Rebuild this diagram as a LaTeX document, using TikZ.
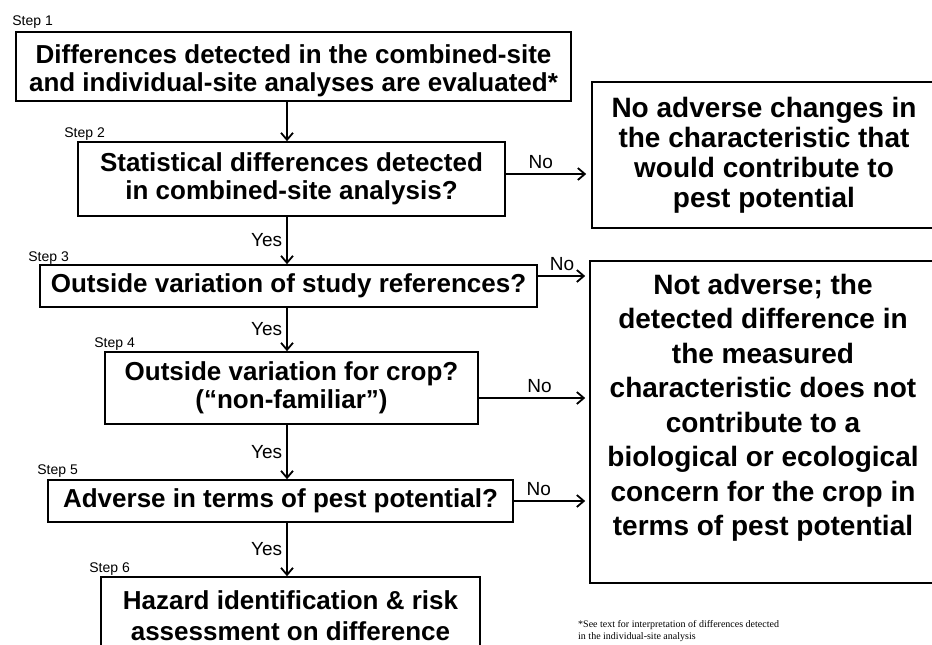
\documentclass[tikz,border=0pt]{standalone}
\usepackage{fontspec}
\setmainfont{Liberation Sans}
\newfontfamily\notefont{Liberation Serif}
\usetikzlibrary{arrows.meta, positioning, calc}

\newcommand{\boxfont}{\bfseries\fontsize{26}{28}\selectfont}
\newcommand{\bigboxfont}{\bfseries\fontsize{28}{30}\selectfont}

\begin{document}
\begin{tikzpicture}[x=1pt, y=-1pt, >={Straight Barb[length=7pt, width=12pt]},
  stepbox/.style={draw, line width=1.6pt, align=center, inner sep=0pt, font=\boxfont},
  endbox/.style={draw, line width=1.6pt, align=center, inner sep=0pt, font=\bigboxfont},
  steptag/.style={anchor=base west, inner sep=0pt, font=\fontsize{14}{16}\selectfont},
  flow/.style={->, line width=1.8pt},
  answer/.style={font=\fontsize{19}{21}\selectfont, inner sep=4pt}]
  \useasboundingbox (0,0) rectangle (932,645);
  \clip (0,0) rectangle (932,645);
  \coordinate (spine) at (287,0);

  % left column: the six steps
  \node[stepbox, minimum width=555pt, minimum height=69pt] (b1) at (293.5,66.5)
    {\rule{0pt}{28pt}Differences detected in the combined-site\\and individual-site analyses are evaluated*};
  \node[stepbox, minimum width=427pt, minimum height=74pt] (b2) at (291.5,179)
    {Statistical differences detected\\in combined-site analysis?};
  \node[stepbox, minimum width=497pt, minimum height=42pt] (b3) at (288.5,286)
    {Outside variation of study references?};
  \node[stepbox, minimum width=373pt, minimum height=72pt] (b4) at (291.5,388)
    {Outside variation for crop?\\(``non-familiar'')};
  \node[stepbox, minimum width=465pt, minimum height=42pt] (b5) at (280.5,501)
    {Adverse in terms of pest potential?};
  \node[stepbox, font=\bfseries\fontsize{26}{31}\selectfont,
    minimum width=379pt, minimum height=78pt] (b6) at (290.5,616)
    {Hazard identification \& risk\\assessment on difference};

  % step numbers
  \node[steptag] (s1) at ([xshift=-3pt, yshift=6pt]b1.north west) {Step 1};
  \node[steptag] (s2) at ([xshift=-13pt, yshift=4pt]b2.north west) {Step 2};
  \node[steptag] (s3) at ([xshift=-11pt, yshift=3pt]b3.north west) {Step 3};
  \node[steptag] (s4) at ([xshift=-10pt, yshift=4pt]b4.north west) {Step 4};
  \node[steptag] (s5) at ([xshift=-10pt, yshift=5pt]b5.north west) {Step 5};
  \node[steptag] (s6) at ([xshift=-11pt, yshift=4pt]b6.north west) {Step 6};

  % right column: outcomes
  \node[endbox, minimum width=344pt, minimum height=146pt] (r1) at (764,155)
    {No adverse changes in\\the characteristic that\\would contribute to\\pest potential};
  \node[draw, line width=1.6pt, inner sep=0pt, font=\bigboxfont] (r2) at (763,422)
    {\parbox[c][322pt][t]{346pt}{\centering\fontsize{28}{34.5}\selectfont\vspace*{13pt}%
      Not adverse; the\\detected difference in\\the measured\\characteristic does not\\%
      contribute to a\\biological or ecological\\concern for the crop in\\terms of pest potential}};

  % Yes: down the spine
  \draw[flow] (b1.south -| spine) -- (b2.north -| spine);
  \draw[flow] (b2.south -| spine) -- node[answer, left] {Yes} (b3.north -| spine);
  \draw[flow] (b3.south -| spine) -- node[answer, left] {Yes} (b4.north -| spine);
  \draw[flow] (b4.south -| spine) -- node[answer, left] {Yes} (b5.north -| spine);
  \draw[flow] (b5.south -| spine) -- node[answer, left] {Yes} (b6.north -| spine);

  % No: across to the outcomes
  \draw[flow, shorten >=5pt] ([yshift=5pt]b2.east)
    -- node[answer, above, pos=0.41] {No} ([yshift=5pt]b2.east -| r1.west);
  \draw[flow, shorten >=4pt] ([yshift=10pt]b3.east)
    -- node[answer, above, pos=0.47] {No} ([yshift=10pt]b3.east -| r2.west);
  \draw[flow, shorten >=4pt] ([yshift=-10pt]b4.east)
    -- node[answer, above, pos=0.55] {No} ([yshift=-10pt]b4.east -| r2.west);
  \draw[flow, shorten >=4pt] (b5.east)
    -- node[answer, above, pos=0.33] {No} (b5.east -| r2.west);

  % footnote
  \node[anchor=north west, align=left, inner sep=0pt,
    font=\notefont\fontsize{10}{12}\selectfont] (note) at (578,620)
    {*See text for interpretation of differences detected\\in the individual-site analysis};
\end{tikzpicture}
\end{document}
